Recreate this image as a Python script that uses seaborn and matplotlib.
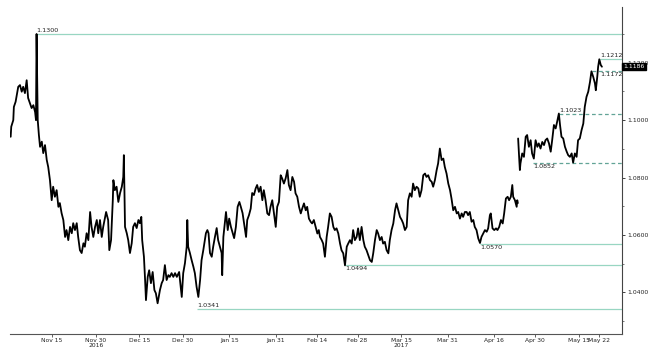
import numpy as np
import pandas as pd
import matplotlib
matplotlib.use("Agg")
import matplotlib.pyplot as plt
import matplotlib.ticker as mticker
import seaborn as sns

sns.set_style("white")
plt.rcParams['font.family'] = ['DejaVu Sans']

base_date = pd.Timestamp("2016-11-15")

# ---- price series (days after 2016-11-15, EUR/USD) ----
seg1_days = [-14.2, -14.0, -13.3, -13.1, -12.5, -11.6, -11.0, -10.4, -9.9, -9.3, -8.7, -8.2, -7.6, -7.0,
             -6.4, -5.8, -5.5, -5.3, -4.9, -4.5, -4.1, -3.5, -3.0, -2.4, -1.8, -1.3, -0.7, -0.1, 0.4, 1.0,
             1.6, 2.2, 2.7, 3.3, 3.9, 4.5, 5.0, 5.6, 6.2, 6.8, 7.3, 7.9, 8.5, 9.0, 9.6, 10.2, 10.8, 11.3,
             11.9, 12.5, 13.1, 13.6, 14.2, 14.8, 15.4, 15.9, 16.5, 17.1, 17.6, 18.6, 19.3, 19.7, 20.3, 20.9,
             21.1, 21.6, 22.2, 22.8, 23.4, 24.0, 24.5, 24.7, 25.1, 25.7, 26.2, 26.8, 27.4, 27.9, 28.5, 29.1,
             29.7, 30.2, 30.7, 31.0, 31.6, 32.0, 32.3, 32.9, 33.4, 34.0, 34.6, 35.2, 35.7, 36.3, 37.1, 37.7,
             38.2, 38.8, 39.4, 40.0, 40.5, 41.1, 41.7, 42.3, 42.9, 43.7, 44.6, 45.1, 45.7, 46.3, 46.5, 46.8,
             47.4, 48.0, 48.6, 49.1, 49.7, 50.3, 50.9, 51.4, 52.0, 52.9, 53.4, 53.8, 54.3, 54.9, 55.4, 56.0,
             56.6, 57.1, 57.7, 58.3, 58.5, 58.9, 59.4, 59.8, 60.4, 60.9, 61.5, 62.1, 62.6, 63.2, 63.8, 64.4,
             64.9, 65.5, 66.1, 66.7, 67.1, 67.7, 68.3, 68.8, 69.4, 70.0, 70.5, 71.1, 71.7, 72.3, 72.8, 73.4,
             74.0, 74.6, 75.1, 75.7, 76.3, 76.9, 77.4, 78.0, 78.6, 79.1, 79.7, 80.3, 80.9, 81.4, 82.0, 82.6,
             83.2, 83.7, 84.3, 84.9, 85.5, 86.0, 86.6, 87.2, 87.7, 88.3, 88.9, 89.4, 90.0, 90.6, 91.2, 91.7,
             92.1, 92.7, 93.2, 93.8, 94.4, 94.9, 95.5, 96.1, 96.7, 97.2, 97.8, 98.4, 99.0, 99.5, 100.1, 100.7,
             101.3, 101.8, 102.4, 103.0, 103.5, 104.1, 104.7, 105.2, 105.8, 106.4, 107.0, 107.5, 108.1, 108.7,
             109.3, 109.9, 110.4, 111.0, 111.6, 112.1, 112.7, 113.3, 113.8, 114.4, 115.0, 115.6, 116.1, 116.7,
             117.3, 117.9, 118.4, 119.0, 119.6, 120.2, 120.7, 121.3, 121.9, 122.4, 123.0, 123.6, 124.1, 124.7,
             125.3, 125.9, 126.4, 127.0, 127.6, 128.2, 128.7, 129.3, 129.9, 130.5, 131.0, 131.6, 132.2, 132.7,
             133.3, 133.9, 134.5, 135.0, 135.6, 136.2, 136.8, 137.3, 137.9, 138.5, 139.1, 139.6, 140.2, 140.8,
             141.3, 141.9, 142.5, 143.0, 143.6, 144.2, 144.8, 145.3, 145.9, 146.5, 147.1, 147.6, 148.2, 148.8,
             149.4, 149.9, 150.5, 150.8, 151.4, 152.0, 152.6, 153.1, 153.7, 154.3, 154.9, 155.4, 156.0, 156.6,
             157.1, 157.7, 158.2, 158.5, 159.1, 159.7, 159.9, 160.1]
seg1_vals = [1.0942, 1.0977, 1.1000, 1.1046, 1.1064, 1.1116, 1.1122, 1.1099, 1.1116, 1.1094, 1.1139, 1.1077,
             1.1059, 1.1042, 1.1052, 1.1028, 1.1000, 1.1300, 1.1000, 1.0948, 1.0907, 1.0925, 1.0885, 1.0913,
             1.0861, 1.0837, 1.0791, 1.0721, 1.0768, 1.0733, 1.0756, 1.0698, 1.0711, 1.0676, 1.0652, 1.0593,
             1.0617, 1.0582, 1.0628, 1.0606, 1.0641, 1.0617, 1.0641, 1.0593, 1.0547, 1.0537, 1.0571, 1.0559,
             1.0606, 1.0582, 1.0680, 1.0628, 1.0593, 1.0628, 1.0652, 1.0606, 1.0652, 1.0593, 1.0628, 1.0680,
             1.0652, 1.0547, 1.0582, 1.0721, 1.0791, 1.0756, 1.0768, 1.0715, 1.0746, 1.0768, 1.0802, 1.0878,
             1.0628, 1.0606, 1.0582, 1.0537, 1.0571, 1.0628, 1.0641, 1.0624, 1.0652, 1.0641, 1.0663, 1.0582,
             1.0524, 1.0443, 1.0373, 1.0454, 1.0477, 1.0432, 1.0471, 1.0408, 1.0397, 1.0362, 1.0408, 1.0432,
             1.0443, 1.0495, 1.0443, 1.0460, 1.0454, 1.0467, 1.0454, 1.0467, 1.0454, 1.0471, 1.0384, 1.0467,
             1.0502, 1.0559, 1.0652, 1.0559, 1.0537, 1.0512, 1.0489, 1.0467, 1.0419, 1.0384, 1.0443, 1.0512,
             1.0547, 1.0606, 1.0617, 1.0606, 1.0537, 1.0524, 1.0559, 1.0593, 1.0624, 1.0582, 1.0559, 1.0537,
             1.0460, 1.0593, 1.0641, 1.0680, 1.0617, 1.0657, 1.0628, 1.0606, 1.0589, 1.0628, 1.0698, 1.0715,
             1.0698, 1.0676, 1.0634, 1.0593, 1.0652, 1.0669, 1.0692, 1.0746, 1.0739, 1.0762, 1.0774, 1.0750,
             1.0768, 1.0721, 1.0756, 1.0721, 1.0675, 1.0669, 1.0698, 1.0721, 1.0675, 1.0628, 1.0698, 1.0715,
             1.0808, 1.0797, 1.0779, 1.0797, 1.0826, 1.0774, 1.0756, 1.0802, 1.0785, 1.0745, 1.0733, 1.0698,
             1.0675, 1.0692, 1.0710, 1.0686, 1.0698, 1.0657, 1.0646, 1.0640, 1.0652, 1.0628, 1.0605, 1.0617,
             1.0593, 1.0582, 1.0570, 1.0524, 1.0593, 1.0628, 1.0675, 1.0663, 1.0628, 1.0617, 1.0623, 1.0605,
             1.0570, 1.0547, 1.0536, 1.0494, 1.0559, 1.0570, 1.0582, 1.0570, 1.0617, 1.0582, 1.0593, 1.0623,
             1.0582, 1.0628, 1.0582, 1.0559, 1.0547, 1.0530, 1.0512, 1.0506, 1.0536, 1.0582, 1.0617, 1.0605,
             1.0582, 1.0593, 1.0570, 1.0576, 1.0547, 1.0536, 1.0582, 1.0617, 1.0640, 1.0686, 1.0710, 1.0686,
             1.0663, 1.0652, 1.0640, 1.0617, 1.0628, 1.0721, 1.0745, 1.0733, 1.0779, 1.0756, 1.0768, 1.0762,
             1.0733, 1.0756, 1.0808, 1.0814, 1.0802, 1.0808, 1.0791, 1.0785, 1.0768, 1.0791, 1.0826, 1.0849,
             1.0901, 1.0861, 1.0866, 1.0837, 1.0814, 1.0779, 1.0756, 1.0727, 1.0686, 1.0698, 1.0675, 1.0680,
             1.0657, 1.0675, 1.0663, 1.0680, 1.0680, 1.0669, 1.0680, 1.0646, 1.0652, 1.0628, 1.0617, 1.0588,
             1.0572, 1.0593, 1.0605, 1.0617, 1.0611, 1.0623, 1.0669, 1.0675, 1.0623, 1.0617, 1.0623, 1.0617,
             1.0628, 1.0652, 1.0640, 1.0675, 1.0727, 1.0733, 1.0721, 1.0733, 1.0774, 1.0733, 1.0721, 1.0698,
             1.0721, 1.0711]

seg2_days = [160.2, 160.6, 160.8, 161.0, 161.6, 162.2, 162.8, 163.3, 163.9, 164.5, 165.0, 165.6, 166.2, 166.8,
             167.3, 167.9, 168.5, 169.1, 169.6, 170.2, 170.8, 171.4, 171.9, 172.5, 173.1, 173.6, 174.2, 174.6,
             175.1, 175.7, 176.3, 176.9, 177.4, 178.0, 178.6, 179.1, 179.7, 180.3, 180.8, 181.4, 182.0, 182.6,
             183.1, 183.7, 184.3, 184.9, 185.4, 186.0, 186.6, 186.9, 187.4, 187.7, 188.1, 188.6, 189.0]
seg2_vals = [1.0936, 1.0861, 1.0826, 1.0849, 1.0884, 1.0872, 1.0942, 1.0948, 1.0907, 1.0930, 1.0884, 1.0866,
             1.0930, 1.0907, 1.0919, 1.0901, 1.0924, 1.0913, 1.0930, 1.0936, 1.0919, 1.0890, 1.0930, 1.0983,
             1.0971, 1.0994, 1.1023, 1.0983, 1.0942, 1.0936, 1.0907, 1.0890, 1.0878, 1.0872, 1.0884, 1.0852,
             1.0884, 1.0872, 1.0930, 1.0936, 1.0965, 1.0988, 1.1046, 1.1081, 1.1099, 1.1133, 1.1170, 1.1151,
             1.1128, 1.1104, 1.1151, 1.1186, 1.1212, 1.1192, 1.1186]

last_price = 1.1186

# ---- support / resistance levels ----
level_values = [1.1300, 1.0341, 1.0494, 1.0570, 1.0852, 1.1023, 1.1172, 1.1212]
level_start_days = [-5.3, 49.8, 100.7, 147.1, 165.3, 174.2, 185.5, 188.3]
level_label_days = [-5.4, 50.0, 100.7, 147.1, 165.3, 174.2, 188.3, 188.3]
level_dashed = [False, False, False, False, True, True, True, False]
level_label_above = [True, True, False, False, False, True, False, True]

# ---- axis ticks ----
xtick_dates = ["2016-11-15", "2016-11-30", "2016-12-15", "2016-12-30", "2017-01-15", "2017-01-31",
               "2017-02-14", "2017-02-28", "2017-03-15", "2017-03-31", "2017-04-16", "2017-04-30",
               "2017-05-15", "2017-05-22"]
xtick_labels = ["Nov 15", "Nov 30\n2016", "Dec 15", "Dec 30", "Jan 15", "Jan 31", "Feb 14", "Feb 28",
                "Mar 15\n2017", "Mar 31", "Apr 16", "Apr 30", "May 15", "May 22"]
ytick_values = [1.04, 1.06, 1.08, 1.10, 1.12]


def to_dates(days):
    return base_date + pd.to_timedelta(np.asarray(days, dtype=float), unit="D")


df = pd.concat([
    pd.DataFrame({"date": to_dates(seg1_days), "price": seg1_vals, "seg": 0}),
    pd.DataFrame({"date": to_dates(seg2_days), "price": seg2_vals, "seg": 1}),
], ignore_index=True)

W, H = 656, 355
fig = plt.figure(figsize=(W / 100, H / 100), dpi=100)
ax = fig.add_axes([10 / W, 1 - 334 / H, 612 / W, 327 / H])

sns.lineplot(data=df, x="date", y="price", units="seg", estimator=None, sort=False,
             color="black", linewidth=1.3, ax=ax, legend=False, zorder=3)

xmin = base_date + pd.Timedelta(days=-14.43)
xmax = base_date + pd.Timedelta(days=195.9)
ax.set_xlim(xmin, xmax)
ax.set_ylim(1.0255, 1.1394)

solid_col = "#98d6c2"
dash_col = "#62a497"
for val, sd, ld, dashed, above in zip(level_values, level_start_days, level_label_days,
                                      level_dashed, level_label_above):
    start = base_date + pd.Timedelta(days=sd)
    ax.hlines(val, start, xmax, colors=dash_col if dashed else solid_col,
              linestyles=(0, (3, 2.2)) if dashed else "solid", linewidth=0.9, zorder=2)
    ax.annotate(f"{val:.4f}", xy=(base_date + pd.Timedelta(days=ld), val),
                xytext=(0, 0.6 if above else -0.8), textcoords="offset points",
                ha="left", va="bottom" if above else "top", fontsize=4.6, color="#222222", zorder=4)

# axes styling
for s in ["top", "left"]:
    ax.spines[s].set_visible(False)
ax.spines["right"].set_color("#444444")
ax.spines["bottom"].set_color("#555555")
ax.spines["right"].set_linewidth(0.8)
ax.spines["bottom"].set_linewidth(0.8)

ax.yaxis.tick_right()
ax.set_yticks(ytick_values)
ax.yaxis.set_major_formatter(mticker.FormatStrFormatter("%.4f"))
ax.yaxis.set_minor_locator(mticker.MultipleLocator(0.01))
ax.tick_params(axis="y", which="major", length=2.5, width=0.6, pad=1, labelsize=4.4,
               colors="#222222", right=True, left=False)
ax.tick_params(axis="y", which="minor", length=1.5, width=0.5, right=True, left=False, colors="#444444")

ax.set_xticks(pd.to_datetime(xtick_dates))
ax.set_xticklabels(xtick_labels)
ax.tick_params(axis="x", which="major", length=2, width=0.5, pad=1, labelsize=4.3,
               colors="#222222", bottom=True)
for lab in ax.get_xticklabels():
    lab.set_linespacing(0.95)
ax.set_xlabel("")
ax.set_ylabel("")

ax.annotate(f"{last_price:.4f}", xy=(1, last_price), xycoords=("axes fraction", "data"),
            xytext=(1.2, 0), textcoords="offset points", ha="left", va="center",
            fontsize=4.4, color="white", annotation_clip=False, zorder=10,
            bbox=dict(boxstyle="square,pad=0.2", fc="black", ec="black"))

fig.savefig("out.png", dpi=100, facecolor="white")
